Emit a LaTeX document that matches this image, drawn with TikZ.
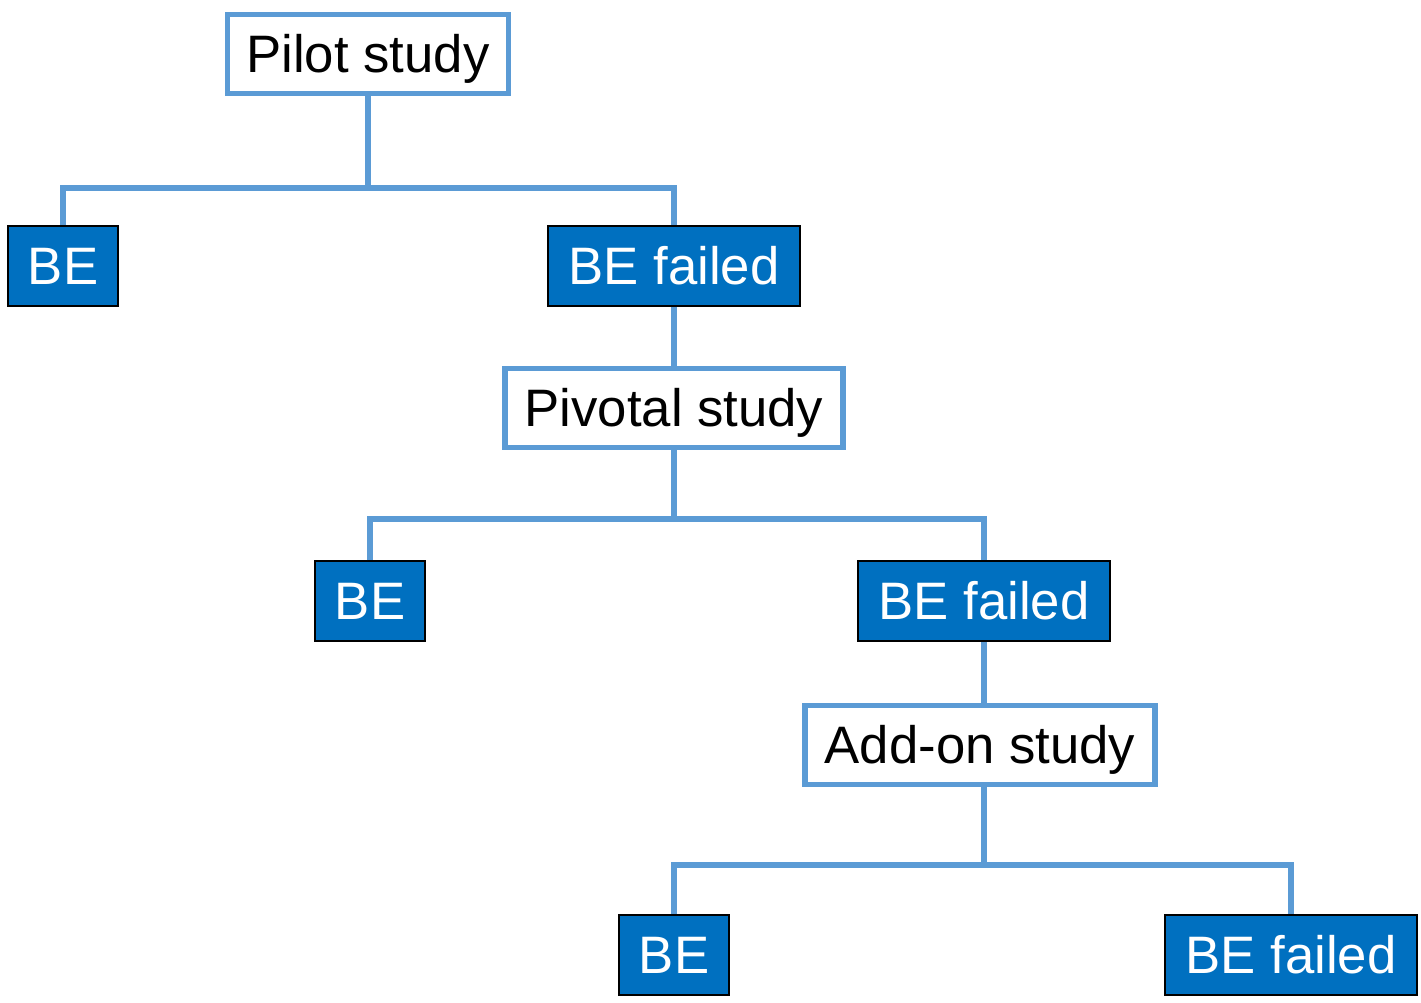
\documentclass[tikz,border=0pt]{standalone}
\usepackage{fontspec}
\setmainfont{Liberation Sans}
\definecolor{linkblue}{HTML}{5B9BD5}
\definecolor{beblue}{HTML}{0070C0}
\tikzset{
    studybox/.style={draw=linkblue, line width=3.2pt, fill=white, inner sep=0pt,
        minimum height=1.58cm, text height=21.5pt, text depth=0pt,
        font=\fontsize{30}{36}\selectfont},
    resultbox/.style={draw=black, line width=1.1pt, fill=beblue, text=white, inner sep=0pt,
        minimum height=1.6cm, text height=21.5pt, text depth=0pt,
        font=\fontsize{30}{36}\selectfont},
    link/.style={draw=linkblue, line width=3.2pt}
}
\begin{document}
\begin{tikzpicture}[x=0.02cm, y=-0.02cm]
                    \useasboundingbox (0,0) rectangle (1421,1002);
                    % Pilot study
                    \node[studybox, minimum width=5.62cm] (pilot) at (368,54) {Pilot study};
                    \node[resultbox, minimum width=2.2cm] (be1) at (63,266) {BE};
                    \node[resultbox, minimum width=5.04cm] (fail1) at (674,266) {BE failed};
                    \coordinate (j1) at (368,188);
                    \draw[link] (pilot.south) -- (j1);
                    \draw[link] (be1.north) |- (j1) -| (fail1.north);
                    % Pivotal study
                    \node[studybox, minimum width=6.76cm] (pivotal) at (674,408) {Pivotal study};
                    \node[resultbox, minimum width=2.2cm] (be2) at (370,601) {BE};
                    \node[resultbox, minimum width=5.04cm] (fail2) at (984,601) {BE failed};
                    \coordinate (j2) at (674,519);
                    \draw[link] (fail1.south) -- (pivotal.north);
                    \draw[link] (pivotal.south) -- (j2);
                    \draw[link] (be2.north) |- (j2) -| (fail2.north);
                    % Add-on study
                    \node[studybox, minimum width=7.0cm] (addon) at (980,745) {Add-on study};
                    \node[resultbox, minimum width=2.2cm] (be3) at (674,955) {BE};
                    \node[resultbox, minimum width=5.04cm] (fail3) at (1291,955) {BE failed};
                    \coordinate (j3) at (984,865);
                    \draw[link] (fail2.south) -- (fail2.south |- addon.north);
                    \draw[link] (addon.south -| j3) -- (j3);
                    \draw[link] (be3.north) |- (j3) -| (fail3.north);
\end{tikzpicture}
\end{document}
